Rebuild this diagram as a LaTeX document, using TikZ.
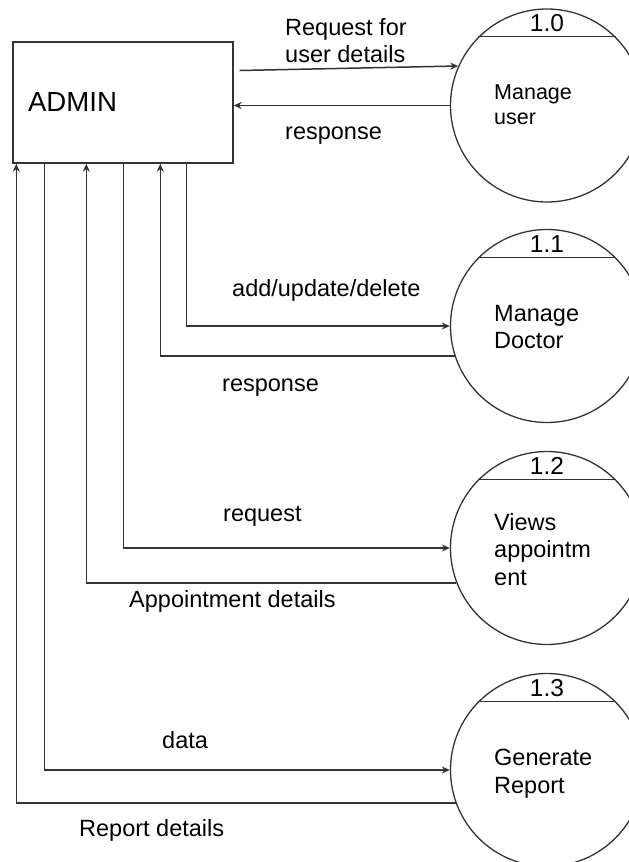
\documentclass[tikz,border=0pt]{standalone}
\usepackage{fontspec}
\setmainfont{Liberation Sans}
\usetikzlibrary{arrows.meta,calc}

\definecolor{linegray}{HTML}{333333}
\tikzset{
  entity/.style={draw=linegray,line width=1.4pt,minimum height=121pt,text width=190pt,
    inner xsep=15pt,inner ysep=0pt,align=left,font=\fontsize{27.6}{30}\selectfont},
  process/.style={circle,draw=linegray,line width=1.3pt,minimum size=193pt,inner sep=0pt},
  flow/.style={draw=linegray,line width=1.5pt,-{Stealth[length=8pt,width=7pt]}},
  lbl/.style={inner sep=0pt,anchor=base west,font=\fontsize{23.5}{27.5}\selectfont},
  ptext/.style={inner sep=0pt,anchor=north west,align=left,font=\fontsize{23.5}{27.5}\selectfont},
  pnum/.style={inner sep=0pt,anchor=base,font=\fontsize{24.5}{24.5}\selectfont},
}

\begin{document}
\begin{tikzpicture}[x=1pt,y=-1pt]
  \clip (0,0) rectangle (629,862);
  \fill[white] (0,0) rectangle (629,862);

  % external entity
  \node[entity] (admin) at (123,102.5) {\raisebox{-3pt}{ADMIN}};

  % processes
  \foreach \name/\cy/\num in {user/105.5/1.0, doctor/326/1.1, appt/548/1.2, report/770/1.3} {
    \node[process] (\name) at (547,\cy) {};
    \draw[linegray,line width=1.3pt] (\name.135) -- (\name.45);
    \node[pnum] (\name-no) at ([yshift=74pt]\name.center) {\num};
  }
  \node[ptext,font=\fontsize{21.5}{25}\selectfont] (user-text) at (494,85) {Manage\\user};
  \node[ptext] (doctor-text) at (494,305) {Manage\\Doctor};
  \node[ptext] (appt-text) at (494,513) {Views\\appointm\\ent};
  \node[ptext] (report-text) at (494,749) {Generate\\Report};

  % data flows
  \draw[flow] ([xshift=6pt,yshift=32pt]admin.east) -- (user.156);
  \draw[flow] (user.west) -- (user.west -| admin.east);
  \draw[flow] ([xshift=174pt]admin.south west) |- (doctor.west);
  \draw[flow] (doctor.198) -| ([xshift=148pt]admin.south west);
  \draw[flow] ([xshift=111pt]admin.south west) |- (appt.west);
  \draw[flow] (appt.201) -| ([xshift=74pt]admin.south west);
  \draw[flow] ([xshift=32pt]admin.south west) |- (report.west);
  \draw[flow] (report.200) -| ([xshift=4pt]admin.south west);

  % flow labels
  \node[ptext] (req-lbl) at (285,18) {Request for\\user details};
  \node[lbl] (resp-lbl) at (285,139) {response};
  \node[lbl] (add-lbl) at (232,296) {add/update/delete};
  \node[lbl] (dresp-lbl) at (222,391) {response};
  \node[lbl] (areq-lbl) at (223,521) {request};
  \node[lbl] (appd-lbl) at (129,607) {Appointment details};
  \node[lbl] (data-lbl) at (162,748) {data};
  \node[lbl] (repd-lbl) at (79,836) {Report details};
\end{tikzpicture}
\end{document}
